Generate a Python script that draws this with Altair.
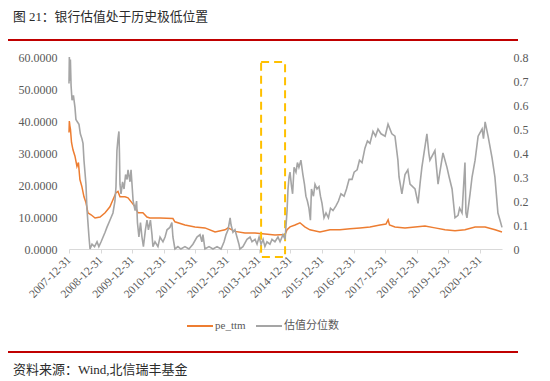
import altair as alt
import pandas as pd

# ---------------- data ----------------
pe_dates = ["2007-12-31","2008-01-04","2008-01-10","2008-01-17","2008-01-29","2008-02-15","2008-03-09",
            "2008-04-01","2008-04-18","2008-05-05","2008-05-28","2008-06-21","2008-07-14","2008-08-06",
            "2008-09-11","2008-10-27","2008-12-24","2009-02-20","2009-04-17","2009-05-22","2009-06-26",
            "2009-07-19","2009-08-11","2009-10-08","2009-11-12","2009-12-17","2010-02-02","2010-03-07",
            "2010-05-03","2010-06-19","2010-07-23","2010-11-17","2011-04-15","2011-05-08","2011-09-01",
            "2011-12-26","2012-04-19","2012-08-14","2012-12-07","2013-01-11","2013-04-01","2013-07-25",
            "2013-11-19","2014-03-13","2014-07-07","2014-11-01","2014-11-24","2014-12-28","2015-02-24",
            "2015-04-22","2015-06-17","2015-08-15","2015-12-09","2016-04-03","2016-07-28","2016-11-21",
            "2017-03-16","2017-07-09","2017-11-02","2018-01-10","2018-02-04","2018-02-20","2018-04-24",
            "2018-08-18","2018-12-12","2019-04-06","2019-07-30","2019-11-23","2020-03-18","2020-07-11",
            "2020-11-05","2021-03-01","2021-06-24","2021-09-12"]
pe_vals = [36.4,40.0,38.5,37.4,33.3,31.0,29.0,
           25.8,27.0,21.7,19.5,16.3,14.5,11.3,
           10.7,9.7,10.0,11.3,13.2,15.4,17.6,
           18.0,16.3,16.3,16.0,14.8,13.2,11.3,
           11.3,10.0,9.7,9.7,9.5,8.5,7.5,
           6.9,6.6,5.3,6.0,6.6,5.5,5.0,
           5.0,4.7,4.4,4.5,6.0,6.9,7.5,
           8.2,6.9,6.0,5.3,6.0,6.0,6.3,
           6.6,6.9,7.5,7.8,9.1,7.5,6.9,
           6.6,6.9,7.2,6.6,6.0,5.7,6.0,
           6.9,6.9,6.0,5.3]

pct_dates = ["2007-12-31","2008-01-04","2008-01-10","2008-01-16","2008-01-24","2008-02-04","2008-02-20",
             "2008-03-09","2008-03-20","2008-04-05","2008-04-24","2008-05-10","2008-05-28","2008-06-10",
             "2008-06-21","2008-07-14","2008-07-25","2008-08-06","2008-08-18","2008-08-30","2008-09-22",
             "2008-10-21","2008-11-19","2008-12-10","2009-01-05","2009-01-28","2009-02-20","2009-03-13",
             "2009-04-17","2009-05-22","2009-06-14","2009-06-26","2009-07-07","2009-07-19","2009-07-30",
             "2009-08-05","2009-08-11","2009-08-23","2009-09-10","2009-09-27","2009-10-15","2009-11-01",
             "2009-11-12","2009-12-05","2009-12-17","2010-01-10","2010-02-02","2010-02-19","2010-03-01",
             "2010-03-18","2010-04-05","2010-04-22","2010-05-09","2010-06-01","2010-06-19","2010-07-06",
             "2010-07-29","2010-08-16","2010-08-27","2010-09-20","2010-10-24","2010-11-17","2010-12-21",
             "2011-01-14","2011-02-06","2011-03-11","2011-04-03","2011-04-15","2011-05-08","2011-06-12",
             "2011-07-16","2011-09-01","2011-10-17","2011-12-02","2012-01-18","2012-02-22","2012-03-15",
             "2012-03-27","2012-04-19","2012-06-05","2012-07-21","2012-09-06","2012-10-22","2012-11-26",
             "2012-12-19","2013-01-11","2013-02-04","2013-02-15","2013-03-09","2013-04-01","2013-04-24",
             "2013-05-17","2013-05-28","2013-07-02","2013-08-18","2013-09-22","2013-10-15","2013-11-19",
             "2013-12-12","2014-01-05","2014-01-28","2014-02-20","2014-03-13","2014-04-06","2014-05-10",
             "2014-06-03","2014-07-07","2014-08-11","2014-09-04","2014-10-08","2014-11-01","2014-11-24",
             "2014-12-05","2014-12-17","2014-12-28","2015-01-15","2015-01-27","2015-02-13","2015-03-07",
             "2015-03-24","2015-04-10","2015-05-03","2015-05-26","2015-06-13","2015-06-30","2015-07-17",
             "2015-08-04","2015-08-21","2015-09-02","2015-09-25","2015-10-13","2015-11-05","2015-11-28",
             "2015-12-15","2016-01-02","2016-01-25","2016-02-17","2016-03-16","2016-04-09","2016-05-08",
             "2016-06-11","2016-07-10","2016-08-08","2016-09-13","2016-10-11","2016-11-10","2016-12-14",
             "2017-01-07","2017-02-11","2017-03-10","2017-04-08","2017-05-12","2017-06-10","2017-07-09",
             "2017-08-13","2017-09-12","2017-10-10","2017-11-14","2017-12-31","2018-02-03","2018-03-19",
             "2018-04-24","2018-05-28","2018-06-10","2018-07-13","2018-08-18","2018-09-20","2018-10-15",
             "2018-12-12","2019-01-16","2019-02-10","2019-03-01","2019-04-28","2019-05-20","2019-06-02",
             "2019-07-30","2019-09-04","2019-09-25","2019-10-31","2019-12-16","2020-01-10","2020-02-13",
             "2020-03-18","2020-04-22","2020-05-10","2020-06-07","2020-07-11","2020-07-22","2020-08-03",
             "2020-09-08","2020-10-01","2020-11-05","2020-12-10","2021-01-25","2021-02-10","2021-03-01",
             "2021-04-04","2021-05-20","2021-06-22","2021-07-27","2021-08-20","2021-09-12"]
pct_vals = [0.69,0.80,0.70,0.79,0.68,0.62,0.64,
            0.59,0.54,0.53,0.52,0.48,0.46,0.44,
            0.37,0.27,0.17,0.11,0.05,0.0,0.02,
            0.01,0.03,0.01,0.03,0.05,0.07,0.09,
            0.12,0.15,0.20,0.26,0.41,0.46,0.49,
            0.40,0.27,0.23,0.28,0.25,0.31,0.29,
            0.33,0.28,0.33,0.20,0.16,0.20,0.11,
            0.05,0.11,0.05,0.01,0.08,0.12,0.08,
            0.12,0.06,0.01,0.03,0.01,0.05,0.03,
            0.05,0.08,0.09,0.11,0.05,0.0,0.01,
            0.0,0.01,0.0,0.02,0.05,0.06,0.03,
            0.06,0.0,0.01,0.0,0.01,0.0,0.03,
            0.06,0.08,0.13,0.10,0.07,0.08,0.05,
            0.02,0.0,0.01,0.04,0.05,0.03,0.04,
            0.02,0.05,0.02,0.04,0.01,0.03,0.02,
            0.04,0.03,0.05,0.03,0.06,0.04,0.16,
            0.25,0.30,0.32,0.26,0.23,0.34,0.32,
            0.36,0.34,0.37,0.31,0.27,0.22,0.20,
            0.17,0.12,0.25,0.22,0.27,0.25,0.26,
            0.22,0.19,0.13,0.15,0.13,0.17,0.16,
            0.18,0.20,0.23,0.22,0.25,0.29,0.29,
            0.32,0.33,0.37,0.36,0.42,0.45,0.44,
            0.49,0.47,0.50,0.48,0.47,0.52,0.48,
            0.47,0.37,0.30,0.23,0.31,0.33,0.27,
            0.25,0.19,0.28,0.34,0.48,0.40,0.37,
            0.41,0.27,0.32,0.40,0.34,0.30,0.25,
            0.13,0.14,0.17,0.15,0.36,0.15,0.13,
            0.23,0.30,0.37,0.47,0.50,0.46,0.53,
            0.47,0.38,0.30,0.15,0.12,0.09]

tick_years = list(range(2007, 2021))
left_ticks = [0, 10, 20, 30, 40, 50, 60]
right_ticks = [0, 0.1, 0.2, 0.3, 0.4, 0.5, 0.6, 0.7, 0.8]
series_names = ["pe_ttm", "估值分位数"]
series_colors = ["#ED7D31", "#A5A5A5"]

box_dates = ["2014-01-28", "2014-11-01"]
box_pe = [58.4, -2.5]

title_txt = "图 21：银行估值处于历史极低位置"
source_txt = "资料来源：Wind,北信瑞丰基金"

# ---------------- tables ----------------
pe_df = pd.DataFrame({"date": pe_dates, "v": pe_vals, "series": series_names[0]})
pct_df = pd.DataFrame({"date": pct_dates, "v": pct_vals, "series": series_names[1]})
box_df = pd.DataFrame({"d1": [box_dates[0]], "d2": [box_dates[1]],
                       "y1": [box_pe[0]], "y2": [box_pe[1]]})
one = pd.DataFrame({"a": [0]})

SERIF = "Liberation Serif, Noto Sans CJK SC"
LABEL_C = "#595959"

x_scale = alt.Scale(type="utc", domain=[alt.DateTime(year=2007, month=12, date=31, utc=True),
                                        alt.DateTime(year=2021, month=9, date=12, utc=True)])
x_axis = alt.Axis(values=[alt.DateTime(year=y, month=12, date=31, utc=True) for y in tick_years],
                  labelExpr="utcFormat(datum.value, '%Y-%m-%d')", labelAngle=-45, labelAlign="right",
                  labelBaseline="middle", labelOverlap=False, labelFlush=False, labelBound=False,
                  tickSize=4, tickColor="#D9D9D9", domainColor="#D9D9D9", grid=False,
                  labelFont=SERIF, labelFontSize=11.5, labelColor=LABEL_C, labelPadding=5, title=None)
left_scale = alt.Scale(domain=[0, 60], nice=False)
left_axis = alt.Axis(values=left_ticks, format=".4f", domain=False, ticks=False, grid=False,
                     labelPadding=12, labelFont=SERIF, labelFontSize=12, labelColor=LABEL_C, title=None)
right_scale = alt.Scale(domain=[0, 0.8], nice=False)
right_axis = alt.Axis(values=right_ticks, format=".1~f", orient="right", domain=False, ticks=False,
                      grid=False, labelPadding=11, labelFont=SERIF, labelFontSize=12,
                      labelColor=LABEL_C, title=None)
color_enc = alt.Color("series:N",
                      scale=alt.Scale(domain=series_names, range=series_colors),
                      legend=alt.Legend(title=None, orient="none", legendX=117, legendY=255,
                                        direction="horizontal", symbolType="stroke", symbolSize=676,
                                        symbolStrokeWidth=2, labelFont=SERIF, labelFontSize=11,
                                        labelColor=LABEL_C, columnPadding=6, labelOffset=1,
                                        padding=0))

orange = alt.Chart(pe_df).mark_line(strokeWidth=1.5).encode(
    x=alt.X("date:T", scale=x_scale, axis=x_axis),
    y=alt.Y("v:Q", scale=left_scale, axis=left_axis),
    color=color_enc,
)
box = alt.Chart(box_df).mark_rect(fill=None, filled=False, stroke="#FFC000", strokeWidth=2,
                                  strokeDash=[8, 5], clip=False).encode(
    x=alt.X("d1:T", scale=x_scale, axis=x_axis), x2="d2",
    y=alt.Y("y1:Q", scale=left_scale, axis=left_axis), y2="y2",
)
gray = alt.Chart(pct_df).mark_line(strokeWidth=1.6).encode(
    x=alt.X("date:T", scale=x_scale, axis=x_axis),
    y=alt.Y("v:Q", scale=right_scale, axis=right_axis),
    color=color_enc,
)

title = alt.Chart(one).mark_text(align="left", baseline="middle", font=SERIF, fontSize=12.8,
                                 color="#2b2b2b").encode(
    x=alt.value(-56), y=alt.value(-40), text=alt.value(title_txt))
top_rule = alt.Chart(one).mark_rule(color="#C00000", strokeWidth=2).encode(
    x=alt.value(-63), x2=alt.value(449), y=alt.value(-17))
bottom_rule = alt.Chart(one).mark_rule(color="#C00000", strokeWidth=2).encode(
    x=alt.value(-63), x2=alt.value(449), y=alt.value(295))
source = alt.Chart(one).mark_text(align="left", baseline="middle", font=SERIF, fontSize=13,
                                  color="#2b2b2b").encode(
    x=alt.value(-56), y=alt.value(313), text=alt.value(source_txt))

chart = alt.layer(
    alt.layer(orange, box), gray, title, top_rule, bottom_rule, source
).resolve_scale(y="independent").properties(
    width=433, height=192,
    autosize=alt.AutoSizeParams(type="none"),
    padding={"left": 61, "top": 49, "right": 40, "bottom": 130},
).configure_view(stroke=None)

chart.save("out.html", embed_options={"renderer": "svg", "actions": False})
